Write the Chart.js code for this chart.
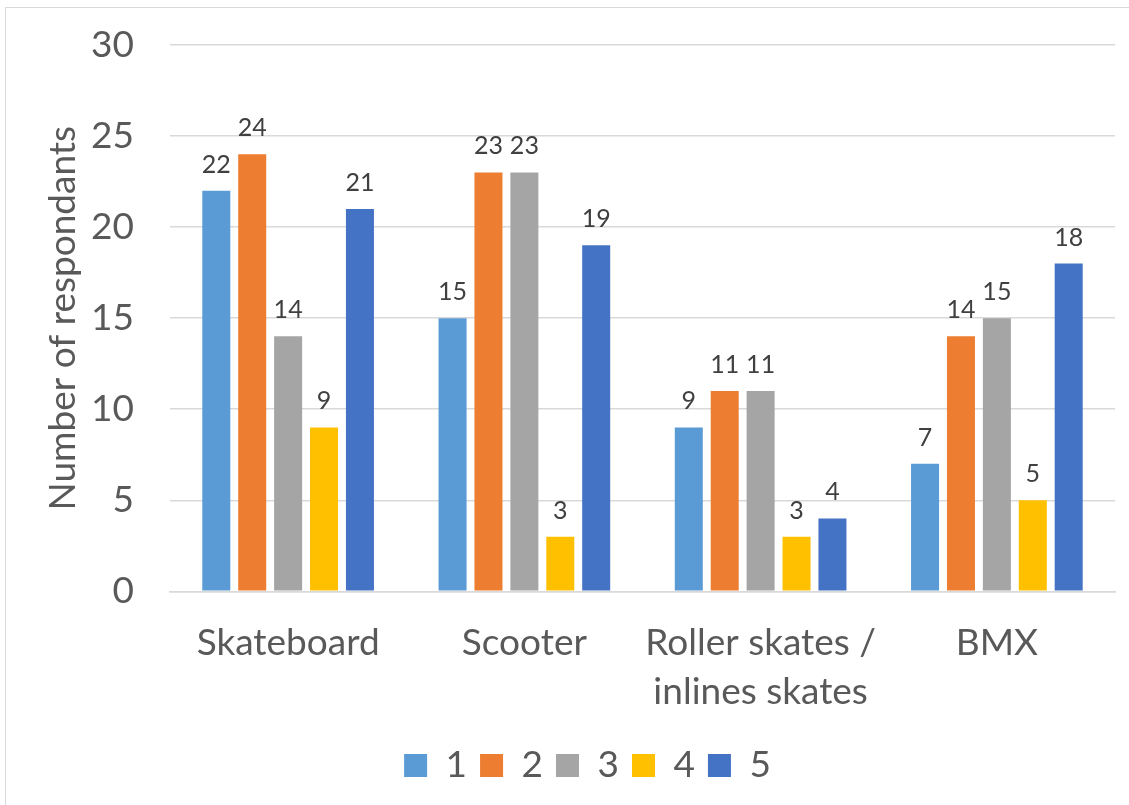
<!DOCTYPE html>
<html>
<head>
<meta charset="utf-8">
<script src="https://cdn.jsdelivr.net/npm/chart.js@4.4.0/dist/chart.umd.min.js"></script>
<style>
  html, body { margin: 0; padding: 0; background: #fff; }
  #wrap { position: relative; width: 1129px; height: 805px; }
  #frame { position: absolute; left: 5px; top: 7px; width: 1140px; height: 820px; border: 1.5px solid #d9d9d9; box-sizing: border-box; }
  canvas { position: absolute; left: 0; top: 0; }
</style>
</head>
<body>
<div id="wrap">
  <div id="frame"></div>
  <canvas id="myChart" width="1129" height="805"></canvas>
</div>
<script>
var categories = ['Skateboard', 'Scooter', ['Roller skates /', 'inlines skates'], 'BMX'];
var seriesNames = ['1', '2', '3', '4', '5'];
var series1 = [22, 15, 9, 7];
var series2 = [24, 23, 11, 14];
var series3 = [14, 23, 11, 15];
var series4 = [9, 3, 3, 5];
var series5 = [21, 19, 4, 18];
var colors = ['#5B9BD5', '#ED7D31', '#A5A5A5', '#FFC000', '#4472C4'];
var yTicks = [0, 5, 10, 15, 20, 25, 30];

var fontFamily = 'Lato, "Open Sans", sans-serif';

// numbers above the bars
var valueLabels = {
    id: 'valueLabels',
    afterDatasetsDraw: function (chart) {
        var ctx = chart.ctx;
        ctx.save();
        ctx.font = '25px ' + fontFamily;
        ctx.fillStyle = '#404040';
        ctx.textAlign = 'center';
        ctx.textBaseline = 'alphabetic';
        chart.data.datasets.forEach(function (ds, i) {
            var meta = chart.getDatasetMeta(i);
            meta.data.forEach(function (bar, j) {
                ctx.fillText(ds.data[j], bar.x, bar.y - 18);
            });
        });
        ctx.restore();
    }
};

// nudge the legend a bit to the right like the original
var legendShift = {
    id: 'legendShift',
    afterLayout: function (chart) {
        chart.legend.left += 30;
        chart.legend.right += 30;
    }
};

var allSeries = [series1, series2, series3, series4, series5];
var ctx = document.getElementById('myChart').getContext('2d');
var myChart = new Chart(ctx, {
    type: 'bar',
    data: {
        labels: categories,
        datasets: allSeries.map(function (s, i) {
            return {
                label: seriesNames[i],
                data: s,
                backgroundColor: colors[i],
                borderWidth: 0,
                barPercentage: 0.78,
                categoryPercentage: 0.76
            };
        })
    },
    options: {
        responsive: false,
        animation: false,
        layout: { padding: { top: 45, right: 14, bottom: 11, left: 0 } },
        plugins: {
            legend: {
                position: 'bottom',
                labels: {
                    boxWidth: 23,
                    boxHeight: 23,
                    padding: 13,
                    color: '#595959',
                    font: { size: 37, family: fontFamily }
                }
            },
            tooltip: { enabled: false }
        },
        scales: {
            x: {
                afterFit: function (scale) { scale.height -= 1; },
                grid: { display: false },
                border: { color: '#d9d9d9', width: 1.5 },
                ticks: {
                    color: '#595959',
                    font: { size: 37, family: fontFamily, lineHeight: 1.32 },
                    maxRotation: 0,
                    padding: 19
                }
            },
            y: {
                min: 0,
                max: 30,
                afterFit: function (scale) {
                    scale.width = 170;
                    scale.paddingTop = 0;
                    scale.paddingBottom = 0;
                },
                afterBuildTicks: function (scale) {
                    scale.ticks = yTicks.map(function (v) { return { value: v }; });
                },
                grid: { color: '#d9d9d9', lineWidth: 1.5, drawTicks: false },
                border: { display: false },
                ticks: {
                    color: '#595959',
                    font: { size: 37, family: fontFamily },
                    padding: 36
                },
                title: {
                    display: true,
                    text: 'Number of respondants',
                    color: '#595959',
                    font: { size: 37, family: fontFamily },
                    padding: { top: 41, bottom: 0 }
                }
            }
        }
    },
    plugins: [valueLabels, legendShift]
});
</script>
</body>
</html>
